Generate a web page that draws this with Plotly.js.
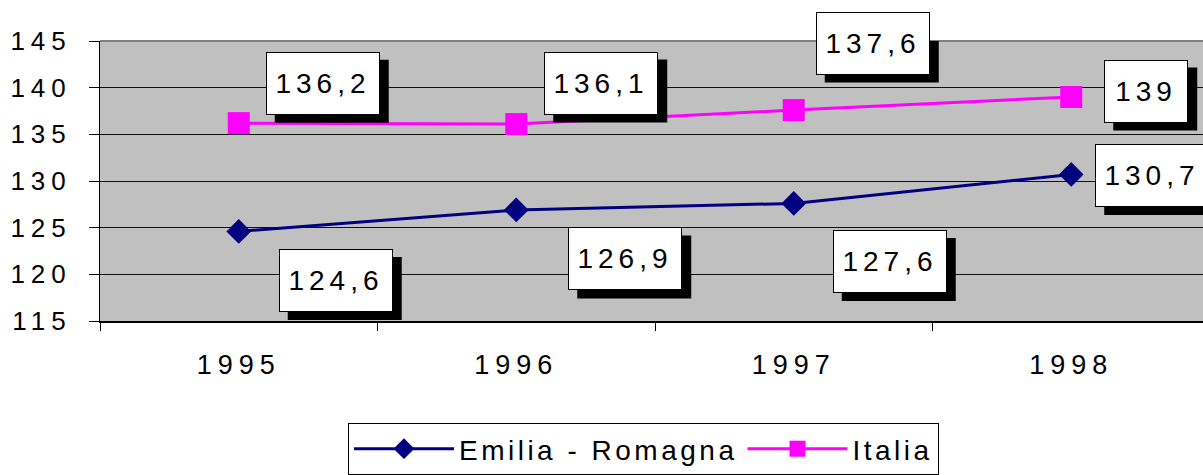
<!DOCTYPE html>
<html><head><meta charset="utf-8">
<script src="https://cdn.plot.ly/plotly-3.0.1.min.js"></script>
<style>
html,body{margin:0;padding:0;overflow:hidden;background:#fff}
#chart{width:1203px;height:475px}
.xtick text,.ytick text{letter-spacing:6px}
.annotation-text{letter-spacing:5px}
.legendtext{letter-spacing:3.5px}
</style></head><body><div id="chart"></div>
<script>
const years = ['1995', '1996', '1997', '1998'];
const emilia = [124.6, 126.9, 127.6, 130.7];
const italia = [136.2, 136.1, 137.6, 139];
const seriesNames = ['Emilia - Romagna', 'Italia'];
const yTicks = [115, 120, 125, 130, 135, 140, 145];

// label box placement: px offsets of box centre from its point (screen y down), box widths
const italiaLabelPos = [[84, -40], [85, -41], [79, -67], [75, -6]];
const emiliaLabelPos = [[97, 49], [109, 49], [96, 58], [81, 1]];
const italiaLabelW = [114, 114, 114, 84];
const emiliaLabelW = [114, 114, 114, 114];
const BOX_H = 63, SH_DX = 9, SH_DY = 8;
const fmt = v => String(v).replace('.', ',');

function labels(vals, pos, widths) {
  const anns = [], shapes = [];
  vals.forEach((v, i) => {
    const dx = pos[i][0], dy = pos[i][1], w = widths[i];
    shapes.push({type: 'rect', xref: 'x', yref: 'y', xsizemode: 'pixel', ysizemode: 'pixel',
      xanchor: i, yanchor: v,
      x0: dx - w / 2 + SH_DX, x1: dx + w / 2 + SH_DX,
      y0: -(dy + BOX_H / 2 + SH_DY), y1: -(dy - BOX_H / 2 + SH_DY),
      fillcolor: '#000', line: {width: 0}, layer: 'above'});
    anns.push({x: i, y: v, xref: 'x', yref: 'y', text: fmt(v), showarrow: false,
      xshift: dx, yshift: -dy, width: w - 2, height: BOX_H - 2,
      bgcolor: '#fff', bordercolor: '#000', borderwidth: 1, borderpad: 0,
      font: {family: 'Liberation Sans, Arial, sans-serif', size: 28, color: '#000'},
      align: 'center', valign: 'middle'});
  });
  return {anns, shapes};
}
const lI = labels(italia, italiaLabelPos, italiaLabelW);
const lE = labels(emilia, emiliaLabelPos, emiliaLabelW);

const traces = [
  {x: years, y: emilia, name: seriesNames[0], type: 'scatter', mode: 'lines+markers',
   line: {color: '#000080', width: 3}, marker: {symbol: 'diamond', size: 19, color: '#000080'}, cliponaxis: false},
  {x: years, y: italia, name: seriesNames[1], type: 'scatter', mode: 'lines+markers',
   line: {color: '#FF00FF', width: 3}, marker: {symbol: 'square', size: 22, color: '#FF00FF'}, cliponaxis: false}
];

const layout = {
  width: 1203, height: 475,
  margin: {l: 100, r: 0, t: 41, b: 150},
  paper_bgcolor: '#fff', plot_bgcolor: '#C0C0C0',
  font: {family: 'Liberation Sans, Arial, sans-serif', color: '#000'},
  xaxis: {type: 'category', range: [-0.5, 3.4748], tickson: 'boundaries', ticks: 'outside', ticklen: 8,
    tickcolor: '#000', showgrid: false, showline: true, linecolor: '#000', linewidth: 2,
    tickfont: {size: 27}, ticklabelstandoff: 19, fixedrange: true},
  yaxis: {range: [115, 145], tickvals: yTicks, ticks: 'outside', ticklen: 10, tickcolor: '#000',
    showgrid: true, gridcolor: '#111', gridwidth: 1, showline: true, linecolor: '#000', linewidth: 1,
    zeroline: false, tickfont: {size: 26}, ticklabelstandoff: 12, fixedrange: true},
  showlegend: true,
  legend: {orientation: 'h', x: 0.2248, xanchor: 'left', y: -0.3650, yanchor: 'top',
    bgcolor: '#fff', bordercolor: '#000', borderwidth: 1, font: {size: 28}, itemwidth: 100,
    traceorder: 'normal'},
  shapes: [{type: 'line', xref: 'paper', yref: 'paper', x0: 0, x1: 1, y0: 1, y1: 1,
    line: {color: '#808080', width: 2}, layer: 'above'}].concat(lI.shapes, lE.shapes),
  annotations: lI.anns.concat(lE.anns)
};
Plotly.newPlot('chart', traces, layout, {displayModeBar: false, staticPlot: true});
</script></body></html>
